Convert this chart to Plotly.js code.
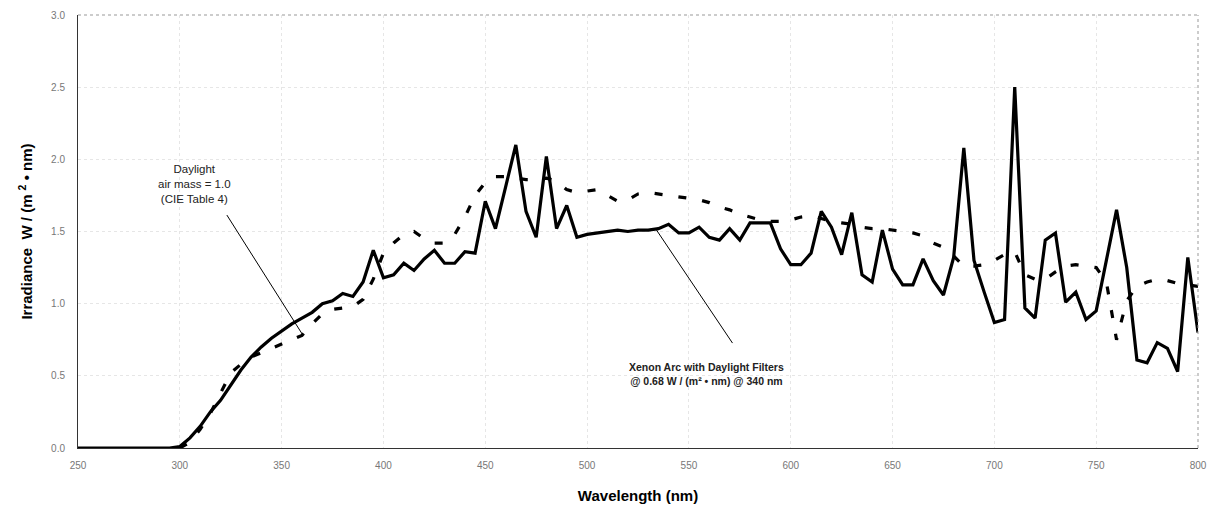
<!DOCTYPE html>
<html>
<head>
<meta charset="utf-8">
<script src="https://cdn.plot.ly/plotly-3.0.1.min.js"></script>
<style>html,body{margin:0;padding:0;background:#fff;}#chart{width:1211px;height:514px;}</style>
</head>
<body>
<div id="chart"></div>
<script>
var wavelength = [250,255,260,265,270,275,280,285,290,295,300,305,310,315,320,325,330,335,340,345,350,355,360,365,370,375,380,385,390,395,400,405,410,415,420,425,430,435,440,445,450,455,460,465,470,475,480,485,490,495,500,505,510,515,520,525,530,535,540,545,550,555,560,565,570,575,580,585,590,595,600,605,610,615,620,625,630,635,640,645,650,655,660,665,670,675,680,685,690,695,700,705,710,715,720,725,730,735,740,745,750,755,760,765,770,775,780,785,790,795,800];

var xenonArc = [0,0,0,0,0,0,0,0,0,0,0.01,0.07,0.15,0.25,0.33,0.44,0.54,0.63,0.70,0.76,0.81,0.86,0.90,0.94,1.00,1.02,1.07,1.05,1.15,1.37,1.18,1.20,1.28,1.23,1.31,1.37,1.28,1.28,1.36,1.35,1.71,1.52,1.81,2.10,1.64,1.46,2.02,1.52,1.68,1.46,1.48,1.49,1.50,1.51,1.50,1.51,1.51,1.52,1.55,1.49,1.49,1.53,1.46,1.44,1.52,1.44,1.56,1.56,1.56,1.38,1.27,1.27,1.35,1.64,1.53,1.34,1.63,1.20,1.15,1.51,1.24,1.13,1.13,1.31,1.16,1.06,1.32,2.08,1.30,1.08,0.87,0.89,2.50,0.97,0.90,1.44,1.49,1.01,1.08,0.89,0.95,1.30,1.65,1.25,0.61,0.59,0.73,0.69,0.53,1.32,0.80];

var daylight = [null,null,null,null,null,null,null,null,null,null,0.0,0.04,0.13,0.24,0.38,0.52,0.58,0.63,0.66,0.69,0.72,0.75,0.78,0.86,0.93,0.96,0.97,0.98,1.03,1.17,1.35,1.42,1.48,1.50,1.45,1.42,1.42,1.48,1.60,1.75,1.84,1.88,1.88,1.87,1.86,1.86,1.87,1.85,1.79,1.77,1.78,1.79,1.75,1.71,1.72,1.76,1.77,1.76,1.75,1.74,1.73,1.72,1.70,1.67,1.65,1.62,1.60,1.58,1.57,1.57,1.58,1.60,1.61,1.59,1.57,1.56,1.55,1.53,1.52,1.52,1.51,1.50,1.49,1.47,1.42,1.39,1.33,1.26,1.26,1.27,1.30,1.34,1.36,1.20,1.17,1.17,1.22,1.26,1.27,1.26,1.25,1.15,0.75,1.02,1.12,1.15,1.17,1.16,1.14,1.13,1.12];

var xTicks = [250,300,350,400,450,500,550,600,650,700,750,800];
var yTicks = [0,0.5,1.0,1.5,2.0,2.5,3.0];
var yTickText = ['0.0','0.5','1.0','1.5','2.0','2.5','3.0'];

var traces = [
  {x: wavelength, y: daylight, type: 'scatter', mode: 'lines', name: 'Daylight',
   line: {color: '#000', width: 3.2, dash: '8px,16px'}, connectgaps: false},
  {x: wavelength, y: xenonArc, type: 'scatter', mode: 'lines', name: 'Xenon Arc',
   line: {color: '#000', width: 3.2}}
];

var tickFont = {family: 'Liberation Sans, Arial, sans-serif', size: 10, color: '#777'};
var titleFont = {family: 'Liberation Sans, Arial, sans-serif', size: 15, color: '#000'};

var layout = {
  width: 1211, height: 514,
  margin: {l: 78, r: 13, t: 15, b: 66},
  paper_bgcolor: '#fff', plot_bgcolor: '#fff',
  showlegend: false,
  xaxis: {
    range: [250, 800], tickvals: xTicks, ticks: '', tickfont: tickFont,
    showgrid: true, gridcolor: '#e6e6e6', griddash: 'dot', gridwidth: 1,
    showline: true, linecolor: '#333', linewidth: 1, zeroline: false,
    ticklabelstandoff: 8,
    title: {text: '<b>Wavelength (nm)</b>', font: titleFont, standoff: 20}
  },
  yaxis: {
    range: [0, 3.0], tickvals: yTicks, ticktext: yTickText, ticks: '', tickfont: tickFont,
    showgrid: true, gridcolor: '#e6e6e6', griddash: 'dot', gridwidth: 1,
    showline: true, linecolor: '#333', linewidth: 1, zeroline: false,
    ticklabelstandoff: 10,
    title: {text: '<b>Irradiance  W / (m <sup>2</sup> • nm)</b>', font: titleFont, standoff: 14}
  },
  shapes: [
    {type: 'line', xref: 'paper', yref: 'paper', x0: 0, x1: 1, y0: 1, y1: 1,
     line: {color: '#999', width: 1, dash: 'dot'}},
    {type: 'line', xref: 'paper', yref: 'paper', x0: 1, x1: 1, y0: 0, y1: 1,
     line: {color: '#999', width: 1, dash: 'dot'}},
    {type: 'line', xref: 'x', yref: 'y', x0: 323.1, y0: 1.614, x1: 360.4, y1: 0.783,
     line: {color: '#000', width: 1}},
    {type: 'line', xref: 'x', yref: 'y', x0: 534.1, y0: 1.51, x1: 571.4, y1: 0.727,
     line: {color: '#000', width: 1}}
  ],
  annotations: [
    {x: 307.4, y: 1.83, xref: 'x', yref: 'y', showarrow: false, align: 'center',
     text: 'Daylight<br>air mass = 1.0<br>(CIE Table 4)',
     font: {family: 'Liberation Sans, Arial, sans-serif', size: 11.5, color: '#222'}},
    {x: 558.6, y: 0.51, xref: 'x', yref: 'y', showarrow: false, align: 'center',
     text: '<b>Xenon Arc with Daylight Filters<br>@ 0.68 W / (m² • nm) @ 340 nm</b>',
     font: {family: 'Liberation Sans, Arial, sans-serif', size: 10.5, color: '#222'}}
  ]
};

Plotly.newPlot('chart', traces, layout, {staticPlot: true, displayModeBar: false});
</script>
</body>
</html>
